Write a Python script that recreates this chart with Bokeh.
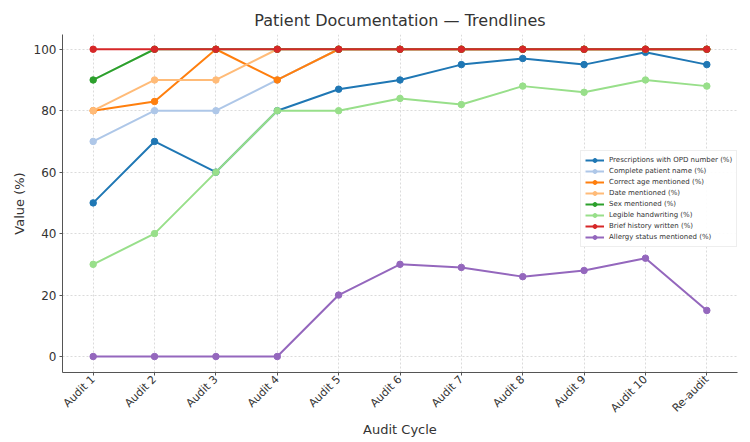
import math
from bokeh.plotting import figure
from bokeh.models import Range1d, FactorRange, Legend, LegendItem, FixedTicker
from bokeh.embed import file_html
from bokeh.resources import INLINE

categories = ["Audit 1", "Audit 2", "Audit 3", "Audit 4", "Audit 5", "Audit 6",
              "Audit 7", "Audit 8", "Audit 9", "Audit 10", "Re-audit"]

opd_number = [50, 70, 60, 80, 87, 90, 95, 97, 95, 99, 95]
patient_name = [70, 80, 80, 90, 100, 100, 100, 100, 100, 100, 100]
correct_age = [80, 83, 100, 90, 100, 100, 100, 100, 100, 100, 100]
date_mentioned = [80, 90, 90, 100, 100, 100, 100, 100, 100, 100, 100]
sex_mentioned = [90, 100, 100, 100, 100, 100, 100, 100, 100, 100, 100]
legible = [30, 40, 60, 80, 80, 84, 82, 88, 86, 90, 88]
brief_history = [100, 100, 100, 100, 100, 100, 100, 100, 100, 100, 100]
allergy = [0, 0, 0, 0, 20, 30, 29, 26, 28, 32, 15]

series_names = ["Prescriptions with OPD number (%)", "Complete patient name (%)",
                "Correct age mentioned (%)", "Date mentioned (%)", "Sex mentioned (%)",
                "Legible handwriting (%)", "Brief history written (%)",
                "Allergy status mentioned (%)"]
series_values = [opd_number, patient_name, correct_age, date_mentioned, sex_mentioned,
                 legible, brief_history, allergy]
colors = ["#1f77b4", "#aec7e8", "#ff7f0e", "#ffbb78", "#2ca02c", "#98df8a",
          "#d62728", "#9467bd"]

FONT = "DejaVu Sans"

p = figure(width=750, height=442, output_backend="svg", toolbar_location=None,
           x_range=FactorRange(factors=categories), y_range=Range1d(-5.2, 104.8),
           title="Patient Documentation \u2014 Trendlines",
           min_border_left=62, min_border_right=13, min_border_top=34,
           min_border_bottom=70)

p.title.align = "center"
p.title.text_font = FONT
p.title.text_font_size = "16px"
p.title.text_font_style = "normal"
p.title.text_color = "#333333"
p.title.offset = 0

items = []
for name, vals, col in zip(series_names, series_values, colors):
    r1 = p.line(categories, vals, line_color=col, line_width=2)
    r2 = p.scatter(categories, vals, size=6.5, fill_color=col, line_color=col)
    items.append(LegendItem(label=name, renderers=[r1, r2]))

legend = Legend(items=items, location=(518, 125))
legend.label_text_font = FONT
legend.label_text_font_size = "7px"
legend.label_text_color = "#333333"
legend.glyph_height = 10
legend.glyph_width = 19
legend.label_height = 10
legend.spacing = 1
legend.padding = 4
legend.margin = 0
legend.label_standoff = 5
legend.border_line_color = "#dddddd"
legend.background_fill_alpha = 0.9
p.add_layout(legend, "center")

p.yaxis.ticker = FixedTicker(ticks=[0, 20, 40, 60, 80, 100])
p.yaxis.axis_label = "Value (%)"
p.xaxis.axis_label = "Audit Cycle"
for ax in (p.xaxis, p.yaxis):
    ax.axis_label_text_font = FONT
    ax.axis_label_text_font_size = "13px"
    ax.axis_label_text_font_style = "normal"
    ax.axis_label_text_color = "#333333"
    ax.major_label_text_font = FONT
    ax.major_label_text_font_size = "12px"
    ax.major_label_text_color = "#333333"
    ax.axis_line_color = "#555555"
    ax.major_tick_line_color = "#555555"
    ax.major_tick_out = 3
    ax.major_tick_in = 0
    ax.minor_tick_line_color = None
p.xaxis.major_label_text_font_size = "11px"
p.xaxis.major_label_orientation = math.pi / 4
p.xaxis.major_label_standoff = 2
p.yaxis.major_label_standoff = 3
p.yaxis.axis_label_standoff = 4
p.xaxis.axis_label_standoff = 0

p.xgrid.grid_line_color = "#cccccc"
p.ygrid.grid_line_color = "#cccccc"
p.xgrid.grid_line_dash = "2 2"
p.ygrid.grid_line_dash = "2 2"
p.xgrid.grid_line_alpha = 0.7
p.ygrid.grid_line_alpha = 0.7
p.outline_line_color = None

open("out.html", "w").write(file_html(p, INLINE))
